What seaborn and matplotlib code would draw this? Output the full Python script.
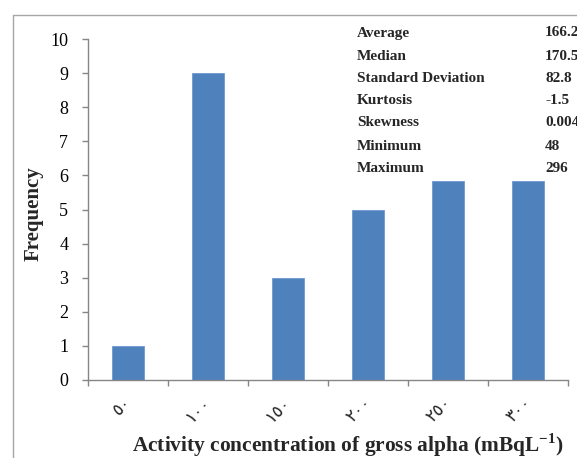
import matplotlib
matplotlib.use("Agg")
import matplotlib.pyplot as plt
import seaborn as sns
import pandas as pd
from matplotlib.lines import Line2D

categories = ["٥٠", "١٠٠", "١٥٠", "٢٠٠", "٢٥٠", "٣٠٠"]
frequency = [1, 9, 3, 5, 5.85, 5.85]
stat_names = ["Average", "Median", "Standard Deviation", "Kurtosis",
              "Skewness", "Minimum", "Maximum"]
stat_values = ["166.2", "170.5", "82.8", "-1.5", "0.004", "48", "296"]
y_ticks = list(range(0, 11))

sns.set_theme(style="white")
plt.rcParams['font.family'] = ['Liberation Serif', 'DejaVu Serif', 'DejaVu Sans']
plt.rcParams['mathtext.fontset'] = 'custom'
plt.rcParams['mathtext.rm'] = 'Liberation Serif'
plt.rcParams['mathtext.bf'] = 'Liberation Serif:bold'

df = pd.DataFrame({"cat": categories, "freq": frequency})

fig = plt.figure(figsize=(5.77, 4.58), dpi=100)
ax = fig.add_axes([88.3/577, 1-380/458, 480/577, 341/458])

sns.barplot(data=df, x="cat", y="freq", color="#4F81BD", width=0.4,
            saturation=1, ax=ax, edgecolor="#6E99CF", linewidth=0.6)

axis_col = "#868686"
ax.set_xlim(-0.5, 5.5)
ax.set_ylim(0, 10)
ax.set_yticks(y_ticks)
ax.set_yticklabels([str(v) for v in y_ticks], fontsize=13)
for s in ["top", "right"]:
    ax.spines[s].set_visible(False)
for s in ["left", "bottom"]:
    ax.spines[s].set_color(axis_col)
    ax.spines[s].set_linewidth(1.0)
ax.tick_params(axis="y", direction="out", length=4.5, width=1.0, color=axis_col,
               pad=10, left=True, labelcolor="black")
ax.set_xticks([i - 0.5 for i in range(7)], minor=True)
ax.tick_params(axis="x", which="minor", direction="out", length=4.5, width=1.0,
               color=axis_col, bottom=True)
ax.tick_params(axis="x", which="major", length=0, pad=14)
for lab in ax.get_xticklabels():
    lab.set_rotation(45)
    lab.set_ha("right")
    lab.set_va("center")
    lab.set_rotation_mode("anchor")
    lab.set_fontsize(12.5)
    lab.set_family(['DejaVu Sans'])

ax.set_ylabel("Frequency", fontsize=15, fontweight="bold")
ax.yaxis.set_label_coords(-0.094, 0.487)
ax.set_xlabel(r"Activity concentration of gross alpha (mBqL$^{\mathbf{-1}}$)",
              fontsize=15.4, fontweight="bold")
ax.xaxis.set_label_coords(0.54, -0.152)

row_y = [33, 56, 78, 101, 123, 146, 168]
for name, val, yy in zip(stat_names, stat_values, row_y):
    fig.text(357/577, 1-yy/458, name, fontsize=11, fontweight="bold",
             ha="left", va="center")
    fig.text(545/577, 1-yy/458, val, fontsize=11, fontweight="bold",
             ha="left", va="center")

# chart-area frame
fig.add_artist(Line2D([13/577, 13/577], [0, 1-15/458], color="#A6A6A6", lw=1.0))
fig.add_artist(Line2D([13/577, 1], [1-15/458, 1-15/458], color="#A6A6A6", lw=1.0))

fig.savefig("out.png", dpi=100)
